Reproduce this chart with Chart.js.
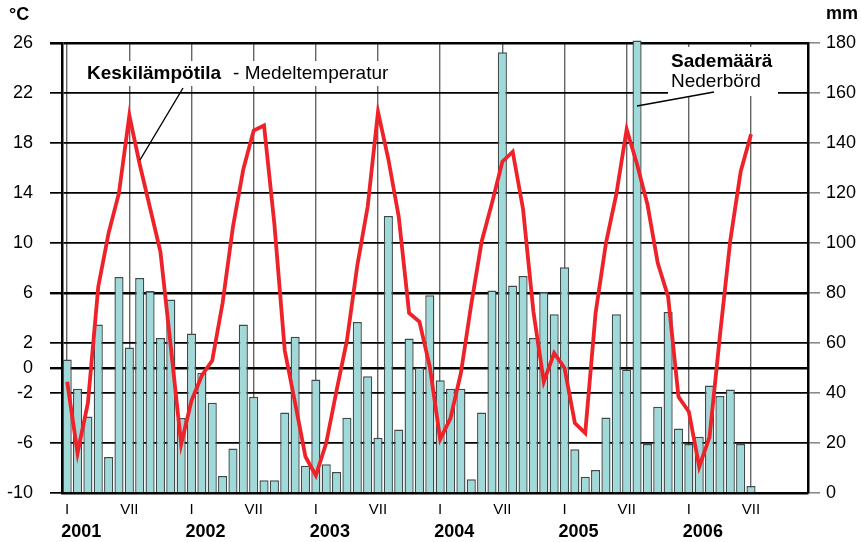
<!DOCTYPE html>
<html>
<head>
<meta charset="utf-8">
<script src="https://cdn.jsdelivr.net/npm/chart.js@4.4.0/dist/chart.umd.min.js"></script>
<style>
  html, body { margin: 0; padding: 0; background: #fff; }
</style>
</head>
<body>
<canvas id="chart" width="861" height="542"></canvas>
<script>
// Kuukausittaiset arvot 2001-2006 (luettu kuvasta)
const years = [2001, 2002, 2003, 2004, 2005, 2006];
const monthNames = ["I", "II", "III", "IV", "V", "VI", "VII", "VIII", "IX", "X", "XI", "XII"];

// Keskilämpötila - Medeltemperatur (°C)
const tempC = [
  -1.1, -6.8, -2.8, 6.5, 10.8, 14.0, 20.2, 16.3, 12.8, 9.3, 1.7, -6.1,
  -2.6, -0.6, 0.6, 5.2, 11.3, 15.9, 19.0, 19.4, 11.5, 1.4, -2.8, -7.1,
  -8.6, -6.0, -1.8, 2.2, 8.2, 12.9, 20.5, 16.7, 12.1, 4.4, 3.7, 0.1,
  -5.7, -4.0, -0.4, 5.1, 10.1, 13.2, 16.5, 17.3, 12.7, 4.5, -1.1, 1.2,
  0.0, -4.4, -5.2, 4.4, 10.0, 13.9, 19.1, 16.3, 13.1, 8.4, 5.7, -2.3,
  -3.5, -7.9, -5.5, 2.6, 10.2, 15.7, 18.7, null, null, null, null, null
];

// Sademäärä - Nederbörd (mm)
const rainMm = [
  53.4, 41.7, 30.6, 67.4, 14.4, 86.4, 58.2, 86.0, 80.8, 62.0, 77.4, 30.0,
  63.8, 48.1, 36.1, 6.8, 17.8, 67.4, 38.5, 5.1, 5.1, 32.2, 62.5, 10.9,
  45.4, 11.5, 8.4, 30.1, 68.4, 46.7, 22.1, 110.8, 25.4, 61.8, 50.2, 79.1,
  45.1, 41.7, 41.7, 5.5, 32.2, 81.0, 176.3, 83.0, 86.8, 62.0, 80.4, 71.5,
  90.3, 17.5, 6.5, 9.2, 30.2, 71.5, 49.4, 181.0, 19.6, 34.5, 72.4, 25.8,
  19.6, 22.5, 43.0, 38.8, 41.4, 19.6, 2.8, null, null, null, null, null
];

// akselien jaotukset
const tempTicks = [-10, -6, -2, 0, 2, 6, 10, 14, 18, 22, 26];
const rainTicks = [0, 20, 40, 60, 80, 100, 120, 140, 160, 180];

// kategoriat: vuosi x kuukausi
const categories = [];
years.forEach(y => monthNames.forEach(m => categories.push(m + " " + y)));

const FONT = "'Liberation Sans', Arial, Helvetica, sans-serif";

// ===== Tekstit, selitteet ja vuosiluvut =====
const annotations = {
  id: "annotations",
  beforeDatasetsDraw(chart) {
    const c = chart.ctx;
    c.save();
    c.fillStyle = "#fff";
    c.fillRect(82, 61, 316, 25);   // Keskilämpötila
    c.fillRect(668, 47, 110, 49);  // Sademäärä
    c.restore();
  },
  afterDraw(chart) {
    const c = chart.ctx;
    const x = chart.scales.x;
    c.save();
    c.fillStyle = "#000";
    c.textBaseline = "middle";

    // yksiköt
    c.font = "bold 18px " + FONT;
    c.textAlign = "left";
    c.fillText("°C", 9, 15);
    c.fillText("mm", 826, 14);

    // vuosiluvut tammikuun kohdalle
    years.forEach((y, i) => {
      c.fillText(String(y), x.getPixelForValue(i * 12) - 6, 532);
    });

    // lämpötilan selite
    c.font = "bold 19px " + FONT;
    c.fillText("Keskilämpötila", 87, 74);
    const w = c.measureText("Keskilämpötila").width + 12;
    c.font = "19px " + FONT;
    c.fillText("- Medeltemperatur", 87 + w, 74);

    // sademäärän selite
    c.font = "bold 19px " + FONT;
    c.fillText("Sademäärä", 671, 62);
    c.font = "19px " + FONT;
    c.fillText("Nederbörd", 671, 82);

    // viittausviivat
    c.strokeStyle = "#000";
    c.lineWidth = 1.4;
    c.beginPath();
    c.moveTo(183, 88);
    c.lineTo(140, 160);
    c.moveTo(714, 92);
    c.lineTo(637, 106);
    c.stroke();
    c.restore();
  }
};

new Chart(document.getElementById("chart"), {
  data: {
    labels: categories,
    datasets: [
      {
        type: "line",
        label: "Keskilämpötila",
        data: tempC,
        yAxisID: "y",
        borderColor: "#ee2229",
        borderWidth: 3.8,
        pointRadius: 0,
        tension: 0,
        order: 0
      },
      {
        type: "bar",
        label: "Sademäärä",
        data: rainMm,
        yAxisID: "y1",
        backgroundColor: "#a0d9d9",
        borderColor: "#3f4b4b",
        borderWidth: 1.4,
        barPercentage: 0.88,
        categoryPercentage: 1,
        clip: false,
        order: 1
      }
    ]
  },
  options: {
    responsive: false,
    animation: false,
    layout: { padding: { top: 43, left: 0, right: 0, bottom: 0 } },
    plugins: { legend: { display: false }, tooltip: { enabled: false } },
    scales: {
      x: {
        type: "category",
        offset: true,
        grid: {
          offset: false,
          drawTicks: false,
          color: ctx => (ctx.index % 6 === 0 ? "#666" : "rgba(0,0,0,0)"),
          lineWidth: 1.4
        },
        border: { color: "#000", width: 2.5 },
        ticks: {
          autoSkip: false,
          maxRotation: 0,
          padding: 8,
          color: "#000",
          font: { family: FONT, size: 15 },
          callback: (v, i) => (i % 12 === 0 ? "I" : i % 12 === 6 ? "VII" : "")
        },
        afterFit: s => { s.height = 49; }
      },
      y: {
        position: "left",
        min: -10,
        max: 26,
        afterBuildTicks: s => { s.ticks = tempTicks.map(v => ({ value: v })); },
        grid: {
          color: "#000",
          tickLength: 12,
          lineWidth: ctx => {
            const v = ctx.tick ? ctx.tick.value : null;
            if (v === 26) return 2.6;
            if (v === 0 || v === 6) return 2.4;
            return 1.7;
          }
        },
        border: { color: "#000", width: 2.5 },
        ticks: { padding: 17, color: "#000", font: { family: FONT, size: 18 } },
        afterFit: s => { s.width = 62; }
      },
      y1: {
        position: "right",
        min: 0,
        max: 180,
        afterBuildTicks: s => { s.ticks = rainTicks.map(v => ({ value: v })); },
        grid: { drawOnChartArea: false, color: "#8a8a8a", tickLength: 12, lineWidth: 1.6 },
        border: { color: "#000", width: 2.5 },
        ticks: { padding: 6, color: "#000", font: { family: FONT, size: 18 } },
        afterFit: s => { s.width = 53; }
      }
    }
  },
  plugins: [annotations]
});
</script>
</body>
</html>
